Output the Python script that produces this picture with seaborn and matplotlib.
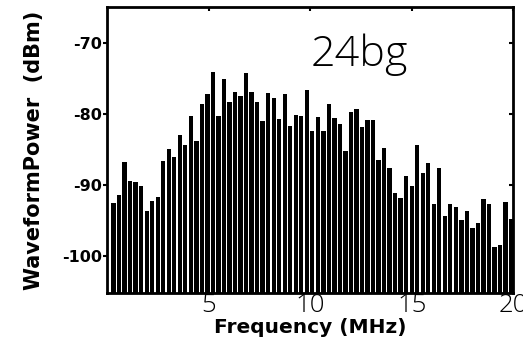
import numpy as np
import pandas as pd
import matplotlib
matplotlib.use("Agg")
import matplotlib.pyplot as plt
import seaborn as sns

# Spectrum bins (MHz) and measured waveform power (dBm) per bin
freq_start, freq_stop, n_bins = 0.30, 19.88, 73
power_dbm = [
    -92.5, -91.4, -86.8, -89.4, -89.6, -90.1, -93.7, -92.2, -91.7, -86.6,
    -85.0, -86.1, -83.0, -84.4, -80.3, -83.9, -78.6, -77.3, -74.2, -80.3,
    -75.1, -78.3, -76.9, -77.5, -74.3, -76.9, -78.3, -81.0, -77.1, -77.8,
    -80.7, -77.2, -81.7, -80.2, -80.3, -76.6, -82.4, -80.4, -82.4, -78.6,
    -80.6, -81.4, -85.3, -79.7, -79.3, -81.8, -80.9, -80.9, -86.5, -84.8,
    -87.6, -91.1, -91.8, -88.8, -90.1, -84.4, -88.3, -86.9, -92.7, -87.6,
    -94.4, -92.7, -93.1, -95.0, -93.7, -96.0, -95.3, -92.0, -92.7, -98.7,
    -98.4, -92.4, -94.8,
]
freq_mhz = np.linspace(freq_start, freq_stop, n_bins)

y_ticks = [-70, -80, -90, -100]
x_ticks = [5, 10, 15, 20]
y_floor, y_top = -105.2, -65.0
title_text = "24bg"

sns.set_theme(style="white")
plt.rcParams["font.family"] = ["DejaVu Sans"]
plt.rcParams["axes.unicode_minus"] = False
for key in ("text.color", "axes.labelcolor", "xtick.color", "ytick.color",
            "axes.edgecolor"):
    plt.rcParams[key] = "black"

df = pd.DataFrame({"freq": freq_mhz, "power": power_dbm})

fig = plt.figure(figsize=(5.23, 3.53), dpi=100)
ax = fig.add_axes([0.2055, 0.170, 0.9818 - 0.2055, 0.9802 - 0.170])

sns.barplot(data=df, x="freq", y="power", native_scale=True, width=0.78,
            color="black", saturation=1, edgecolor="none", linewidth=0,
            errorbar=None, ax=ax)

# Anchor every bar on the bottom of the power axis instead of on zero
for p in ax.patches:
    h = p.get_y() + p.get_height()
    p.set_y(y_floor)
    p.set_height(h - y_floor)

ax.set_xlim(0, 20)
ax.set_ylim(y_floor, y_top)

ax.set_xticks(x_ticks)
ax.set_xticklabels([str(t) for t in x_ticks], fontsize=18.5,
                   fontfamily="Open Sans", fontweight="light")
ax.set_yticks(y_ticks)
ax.set_yticklabels([str(t) for t in y_ticks], fontsize=11.5, fontweight="bold")

ax.tick_params(axis="y", which="both", left=True, right=True, direction="out",
               length=3, width=1.5, color="black", pad=1)
ax.tick_params(axis="x", which="both", bottom=False, top=True, direction="in",
               length=3, width=1.5, color="black", pad=0)
for t in ax.yaxis.get_major_ticks():
    t.tick2line.set_marker(matplotlib.lines.TICKLEFT)

for s in ax.spines.values():
    s.set_visible(True)
    s.set_color("black")
    s.set_linewidth(2)

ax.set_xlabel("Frequency (MHz)", fontsize=14.5, fontweight="bold", labelpad=0)
ax.set_ylabel("WaveformPower  (dBm)", fontsize=15, fontweight="bold", labelpad=13)

ax.text(10.0, -73.3, title_text, ha="left", va="baseline", fontsize=31,
        fontfamily="Open Sans", fontweight="light", color="black")

fig.savefig("out.png", dpi=100)
